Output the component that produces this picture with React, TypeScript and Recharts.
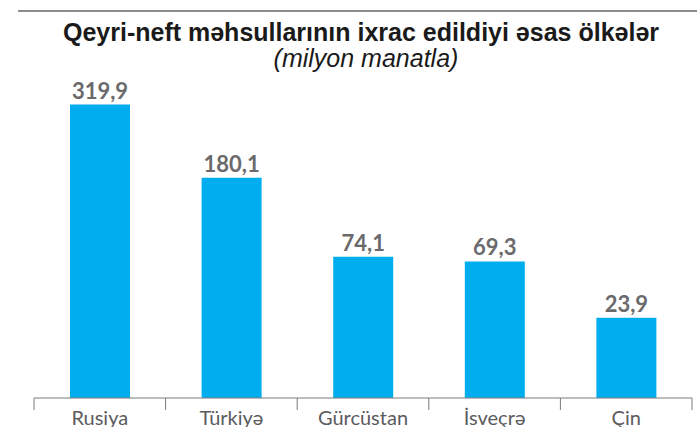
import { BarChart, Bar, XAxis, YAxis, LabelList } from 'recharts'

const countries = ['Rusiya', 'Türkiyə', 'Gürcüstan', 'İsveçrə', 'Çin']
const exportValues = [319.9, 180.1, 74.1, 69.3, 23.9]

const data = countries.map((name, i) => ({ name, value: exportValues[i] }))

const HALF_BAND = 65.8

function CountryTick(props: any) {
    const { x, y, payload, index } = props
    return (
        <g>
            <line x1={x - HALF_BAND} y1={y} x2={x - HALF_BAND} y2={y + 12} stroke="#7a7a7a" strokeWidth={1} />
            {index === countries.length - 1 && (
                <line x1={x + HALF_BAND} y1={y} x2={x + HALF_BAND} y2={y + 12} stroke="#7a7a7a" strokeWidth={1} />
            )}
            <text x={x} y={y + 27} textAnchor="middle" fill="#5b5b5e" fontSize={20} fontFamily="Lato">
                {payload.value}
            </text>
        </g>
    )
}

export default function App() {
    return (
        <div style={{ position: 'absolute', left: 0, top: 0, width: 697, height: 427, background: '#fff', overflow: 'hidden' }}>
            <div style={{ position: 'absolute', left: 18, top: 10, width: 679, height: 2, background: '#8c8c8c' }} />
            <div style={{
                position: 'absolute', left: 0, top: 18, width: 722, textAlign: 'center',
                fontFamily: '"Liberation Sans", Arial, sans-serif', fontWeight: 700, fontSize: 25, color: '#1a1a1a',
            }}>
                Qeyri-neft məhsullarının ixrac edildiyi əsas ölkələr
            </div>
            <div style={{
                position: 'absolute', left: 0, top: 44, width: 732, textAlign: 'center',
                fontFamily: '"Liberation Sans", Arial, sans-serif', fontStyle: 'italic', fontSize: 25, color: '#1a1a1a',
            }}>
                (milyon manatla)
            </div>
            <div style={{ position: 'absolute', left: 0, top: 0 }}>
                <BarChart width={697} height={427} data={data} margin={{ top: 100, right: 5, left: 34, bottom: 0 }}>
                    <YAxis hide type="number" scale="sqrt" domain={[0, 330]} />
                    <XAxis
                        dataKey="name"
                        height={29}
                        axisLine={{ stroke: '#7a7a7a' }}
                        tickLine={false}
                        tickSize={0}
                        tickMargin={0}
                        interval={0}
                        tick={<CountryTick />}
                    />
                    <Bar dataKey="value" fill="#00aeef" barSize={60} isAnimationActive={false}>
                        <LabelList
                            dataKey="value"
                            position="top"
                            offset={6}
                            fill="#6a6a6d"
                            fontSize={22}
                            fontWeight={700}
                            fontFamily="Lato"
                            formatter={(v: any) => String(v).replace('.', ',')}
                        />
                    </Bar>
                </BarChart>
            </div>
        </div>
    )
}
